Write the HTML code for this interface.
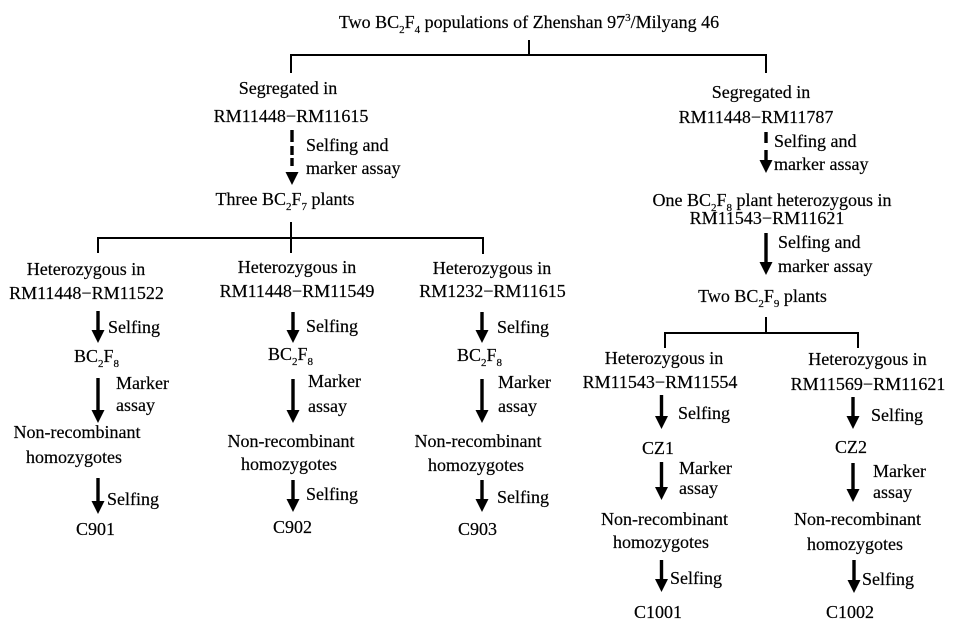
<!DOCTYPE html>
<html><head><meta charset="utf-8"><style>
html,body{margin:0;padding:0;background:#fff;}
svg{display:block;}
text{font-family:"Liberation Serif","Times New Roman",serif;font-size:18px;fill:#000;stroke:#000;stroke-width:0.2;}
.m{text-anchor:middle;}
</style></head><body>
<svg width="955" height="625" viewBox="0 0 955 625" xmlns="http://www.w3.org/2000/svg">
<g stroke="#000" stroke-width="2" fill="none">
<line x1="529" y1="40" x2="529" y2="55"/>
<line x1="290" y1="55" x2="767" y2="55"/>
<line x1="291" y1="55" x2="291" y2="73"/>
<line x1="766" y1="55" x2="766" y2="73"/>
<line x1="291" y1="222" x2="291" y2="253"/>
<line x1="97" y1="238" x2="484" y2="238"/>
<line x1="98" y1="238" x2="98" y2="253"/>
<line x1="483" y1="238" x2="483" y2="254"/>
<line x1="766" y1="317" x2="766" y2="333"/>
<line x1="664" y1="333" x2="859" y2="333"/>
<line x1="665" y1="333" x2="665" y2="348"/>
<line x1="858" y1="333" x2="858" y2="348"/>
</g>
<g fill="#000">
<!-- dashed arrow left -->
<rect x="290.3" y="130" width="3.4" height="12"/>
<rect x="290.3" y="146" width="3.4" height="9"/>
<rect x="290.3" y="158" width="3.4" height="8"/>
<polygon points="285.5,172 298.5,172 292,185"/>
<!-- right top arrow -->
<rect x="764.3" y="132" width="3.4" height="11"/>
<rect x="764.3" y="150" width="3.4" height="11"/>
<polygon points="759.5,160 772.5,160 766,173"/>
<!-- right second arrow -->
<rect x="764.3" y="233" width="3.4" height="30"/>
<polygon points="759.5,262 772.5,262 766,275"/>
<!-- col1 -->
<rect x="96.3" y="311" width="3.4" height="20"/><polygon points="91.5,330 104.5,330 98,343"/>
<rect x="96.3" y="378" width="3.4" height="33"/><polygon points="91.5,410 104.5,410 98,423"/>
<rect x="96.3" y="478" width="3.4" height="24"/><polygon points="91.5,501 104.5,501 98,514"/>
<!-- col2 -->
<rect x="291.3" y="312" width="3.4" height="19"/><polygon points="286.5,330 299.5,330 293,343"/>
<rect x="291.3" y="379" width="3.4" height="32"/><polygon points="286.5,410 299.5,410 293,423"/>
<rect x="291.3" y="480" width="3.4" height="20"/><polygon points="286.5,499 299.5,499 293,512"/>
<!-- col3 -->
<rect x="480.3" y="312" width="3.4" height="19"/><polygon points="475.5,330 488.5,330 482,343"/>
<rect x="480.3" y="379" width="3.4" height="32"/><polygon points="475.5,410 488.5,410 482,423"/>
<rect x="480.3" y="480" width="3.4" height="20"/><polygon points="475.5,499 488.5,499 482,512"/>
<!-- col4 -->
<rect x="659.8" y="395" width="3.4" height="22"/><polygon points="655,416 668,416 661.5,429"/>
<rect x="659.8" y="462" width="3.4" height="26"/><polygon points="655,487 668,487 661.5,500"/>
<rect x="659.8" y="560" width="3.4" height="20"/><polygon points="655,579 668,579 661.5,592"/>
<!-- col5 -->
<rect x="851.3" y="397" width="3.4" height="20"/><polygon points="846.5,416 859.5,416 853,429"/>
<rect x="851.3" y="463" width="3.4" height="27"/><polygon points="846.5,489 859.5,489 853,502"/>
<rect x="852.3" y="560" width="3.4" height="21"/><polygon points="847.5,580 860.5,580 854,593"/>
</g>

<text class="m" x="529" y="28">Two BC<tspan font-size="11" dy="5">2</tspan><tspan dy="-5">F</tspan><tspan font-size="11" dy="5">4</tspan><tspan dy="-5"> populations of Zhenshan 97</tspan><tspan font-size="11" dy="-7">3</tspan><tspan dy="7">/Milyang 46</tspan></text>

<!-- left branch -->
<text class="m" x="288" y="94">Segregated in</text>
<text class="m" x="291" y="122">RM11448−RM11615</text>
<text x="306" y="151">Selfing and</text>
<text x="306" y="174">marker assay</text>
<text class="m" x="285" y="205">Three BC<tspan font-size="11" dy="5">2</tspan><tspan dy="-5">F</tspan><tspan font-size="11" dy="5">7</tspan><tspan dy="-5"> plants</tspan></text>

<!-- col1 -->
<text class="m" x="86" y="275">Heterozygous in</text>
<text class="m" x="86.5" y="299">RM11448−RM11522</text>
<text x="108" y="333">Selfing</text>
<text x="74" y="362">BC<tspan font-size="11" dy="5">2</tspan><tspan dy="-5">F</tspan><tspan font-size="11" dy="5">8</tspan></text>
<text x="116" y="389">Marker</text>
<text x="116" y="411">assay</text>
<text class="m" x="77" y="438">Non-recombinant</text>
<text class="m" x="74" y="463">homozygotes</text>
<text x="107" y="505">Selfing</text>
<text x="76" y="535">C901</text>

<!-- col2 -->
<text class="m" x="297" y="273">Heterozygous in</text>
<text class="m" x="297" y="297">RM11448−RM11549</text>
<text x="306" y="332">Selfing</text>
<text x="268" y="360">BC<tspan font-size="11" dy="5">2</tspan><tspan dy="-5">F</tspan><tspan font-size="11" dy="5">8</tspan></text>
<text x="308" y="387">Marker</text>
<text x="308" y="412">assay</text>
<text class="m" x="291" y="447">Non-recombinant</text>
<text class="m" x="289" y="470">homozygotes</text>
<text x="306" y="500">Selfing</text>
<text x="273" y="533">C902</text>

<!-- col3 -->
<text class="m" x="492" y="274">Heterozygous in</text>
<text class="m" x="492.5" y="297">RM1232−RM11615</text>
<text x="497" y="333">Selfing</text>
<text x="457" y="361">BC<tspan font-size="11" dy="5">2</tspan><tspan dy="-5">F</tspan><tspan font-size="11" dy="5">8</tspan></text>
<text x="498" y="388">Marker</text>
<text x="498" y="412">assay</text>
<text class="m" x="478" y="447">Non-recombinant</text>
<text class="m" x="476" y="471">homozygotes</text>
<text x="497" y="503">Selfing</text>
<text x="458" y="535">C903</text>

<!-- right branch -->
<text class="m" x="761" y="98">Segregated in</text>
<text class="m" x="756" y="123">RM11448−RM11787</text>
<text x="774" y="147">Selfing and</text>
<text x="774" y="170">marker assay</text>
<text class="m" x="772" y="206">One BC<tspan font-size="11" dy="5">2</tspan><tspan dy="-5">F</tspan><tspan font-size="11" dy="5">8</tspan><tspan dy="-5"> plant heterozygous in</tspan></text>
<text class="m" x="767" y="224">RM11543−RM11621</text>
<text x="778" y="248">Selfing and</text>
<text x="778" y="272">marker assay</text>
<text class="m" x="762.5" y="302">Two BC<tspan font-size="11" dy="5">2</tspan><tspan dy="-5">F</tspan><tspan font-size="11" dy="5">9</tspan><tspan dy="-5"> plants</tspan></text>

<!-- col4 -->
<text class="m" x="664" y="364">Heterozygous in</text>
<text class="m" x="660" y="388">RM11543−RM11554</text>
<text x="678" y="419">Selfing</text>
<text x="642" y="454">CZ1</text>
<text x="679" y="474">Marker</text>
<text x="679" y="494">assay</text>
<text class="m" x="664.5" y="525">Non-recombinant</text>
<text class="m" x="661" y="548">homozygotes</text>
<text x="670" y="584">Selfing</text>
<text x="634" y="618">C1001</text>

<!-- col5 -->
<text class="m" x="867.5" y="365">Heterozygous in</text>
<text class="m" x="868" y="390">RM11569−RM11621</text>
<text x="871" y="421">Selfing</text>
<text x="835" y="453">CZ2</text>
<text x="873" y="477">Marker</text>
<text x="873" y="498">assay</text>
<text class="m" x="857.5" y="525">Non-recombinant</text>
<text class="m" x="855" y="550">homozygotes</text>
<text x="862" y="585">Selfing</text>
<text x="826" y="618">C1002</text>
</svg>
</body></html>
